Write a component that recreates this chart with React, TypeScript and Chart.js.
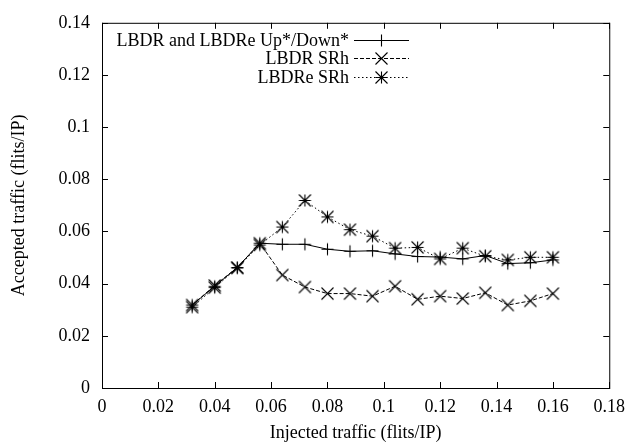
import React, { useEffect, useRef } from "react";
import { Chart, registerables } from "chart.js";

Chart.register(...registerables);

const injected = [0.032, 0.04, 0.048, 0.056, 0.064, 0.072, 0.08, 0.088, 0.096, 0.104, 0.112, 0.12, 0.128, 0.136, 0.144, 0.152, 0.16];
const upDown = [0.0318, 0.039, 0.0462, 0.0555, 0.0551, 0.0551, 0.0532, 0.0524, 0.0526, 0.0514, 0.0504, 0.0502, 0.0495, 0.0508, 0.0477, 0.048, 0.0491];
const lbdrSRh = [0.0318, 0.0393, 0.0462, 0.0555, 0.0433, 0.0387, 0.0362, 0.0362, 0.0352, 0.039, 0.034, 0.0352, 0.0343, 0.0365, 0.0318, 0.0334, 0.0362];
const lbdreSRh = [0.031, 0.0385, 0.046, 0.0548, 0.0617, 0.0719, 0.0656, 0.0607, 0.0582, 0.0536, 0.0539, 0.0495, 0.0536, 0.0505, 0.0491, 0.0501, 0.0501];
const seriesLabels = ["LBDR and LBDRe Up*/Down*", "LBDR SRh", "LBDRe SRh"];
const xTitle = "Injected traffic (flits/IP)";
const yTitle = "Accepted traffic (flits/IP)";

const FONT = "'Liberation Serif', 'Times New Roman', serif";

function makeMarker(kind: string): HTMLCanvasElement {
  const s = 6;
  const size = 2 * s + 3;
  const c = document.createElement("canvas");
  c.width = size;
  c.height = size;
  const ctx = c.getContext("2d")!;
  const m = size / 2;
  ctx.strokeStyle = "#000";
  ctx.lineWidth = 1.1;
  ctx.beginPath();
  if (kind === "plus" || kind === "star") {
    ctx.moveTo(m - s, m);
    ctx.lineTo(m + s, m);
    ctx.moveTo(m, m - s);
    ctx.lineTo(m, m + s);
  }
  if (kind === "x" || kind === "star") {
    ctx.moveTo(m - s, m - s);
    ctx.lineTo(m + s, m + s);
    ctx.moveTo(m + s, m - s);
    ctx.lineTo(m - s, m + s);
  }
  ctx.stroke();
  return c;
}

export default function App() {
  const ref = useRef<HTMLCanvasElement>(null);
  useEffect(() => {
    const markers = [makeMarker("plus"), makeMarker("x"), makeMarker("star")];
    const dashes = [[], [4, 2], [1.5, 2.5]];
    const values = [upDown, lbdrSRh, lbdreSRh];

    const frame = {
      id: "frame",
      afterDraw(chart: any) {
        const { ctx, chartArea: a, scales } = chart;
        ctx.save();
        ctx.strokeStyle = "#000";
        ctx.lineWidth = 1;
        ctx.setLineDash([]);
        const tl = 6;
        ctx.beginPath();
        scales.x.ticks.forEach((t: any) => {
          const px = Math.round(scales.x.getPixelForValue(t.value)) + 0.5;
          ctx.moveTo(px, a.bottom);
          ctx.lineTo(px, a.bottom - tl);
          ctx.moveTo(px, a.top);
          ctx.lineTo(px, a.top + tl);
        });
        scales.y.ticks.forEach((t: any) => {
          const py = Math.round(scales.y.getPixelForValue(t.value)) + 0.5;
          ctx.moveTo(a.left, py);
          ctx.lineTo(a.left + tl, py);
          ctx.moveTo(a.right, py);
          ctx.lineTo(a.right - tl, py);
        });
        ctx.stroke();
        ctx.strokeRect(a.left + 0.5, a.top + 0.5, a.right - a.left, a.bottom - a.top);

        // legend
        ctx.font = "18px " + FONT;
        ctx.fillStyle = "#000";
        ctx.textAlign = "right";
        ctx.textBaseline = "middle";
        chart.data.datasets.forEach((ds: any, i: number) => {
          const y = a.top + 17 + i * 18.5;
          const textRight = a.left + 247;
          ctx.fillText(ds.label, textRight, y + 1);
          const x0 = textRight + 5;
          const x1 = textRight + 60;
          ctx.beginPath();
          ctx.setLineDash(ds.borderDash || []);
          ctx.lineWidth = 1;
          ctx.moveTo(x0, Math.round(y) + 0.5);
          ctx.lineTo(x1, Math.round(y) + 0.5);
          ctx.stroke();
          ctx.setLineDash([]);
          const mk = markers[i];
          ctx.drawImage(mk, (x0 + x1) / 2 - mk.width / 2, Math.round(y) + 0.5 - mk.height / 2);
        });
        ctx.restore();
      },
    };

    const chart = new Chart(ref.current!, {
      type: "line",
      data: {
        datasets: values.map((vals, i) => ({
          label: seriesLabels[i],
          data: injected.map((x, j) => ({ x, y: vals[j] })),
          borderColor: "#000",
          backgroundColor: "#000",
          borderWidth: 1,
          borderDash: dashes[i],
          pointStyle: markers[i],
          pointRadius: 6,
          tension: 0,
          fill: false,
        })),
      },
      options: {
        animation: false,
        responsive: false,
        layout: { padding: { top: 11, right: 18, left: 0, bottom: 0 } },
        plugins: { legend: { display: false }, tooltip: { enabled: false } },
        scales: {
          x: {
            type: "linear",
            min: 0,
            max: 0.18,
            grid: { display: false, drawTicks: false },
            border: { display: false },
            ticks: {
              stepSize: 0.02,
              color: "#000",
              font: { family: FONT, size: 18 },
              padding: 8,
              maxRotation: 0,
              callback: (v: any) => String(parseFloat(Number(v).toFixed(4))),
            },
            title: {
              display: true,
              text: xTitle,
              color: "#000",
              font: { family: FONT, size: 18 },
              padding: { top: 0, bottom: 4 },
            },
            afterFit: (s: any) => {
              s.height = 60;
            },
          },
          y: {
            type: "linear",
            min: 0,
            max: 0.14,
            grid: { display: false, drawTicks: false },
            border: { display: false },
            ticks: {
              stepSize: 0.02,
              color: "#000",
              font: { family: FONT, size: 18 },
              padding: 12,
              callback: (v: any) => String(parseFloat(Number(v).toFixed(4))),
            },
            title: {
              display: true,
              text: yTitle,
              color: "#000",
              font: { family: FONT, size: 18 },
              padding: { top: 8, bottom: 0 },
            },
            afterFit: (s: any) => {
              s.width = 102;
            },
          },
        },
      },
      plugins: [frame],
    });
    return () => chart.destroy();
  }, []);

  return (
    <div style={{ position: "fixed", left: 0, top: 0, width: 633, height: 448, background: "#fff" }}>
      <canvas ref={ref} width={633} height={448} />
    </div>
  );
}
